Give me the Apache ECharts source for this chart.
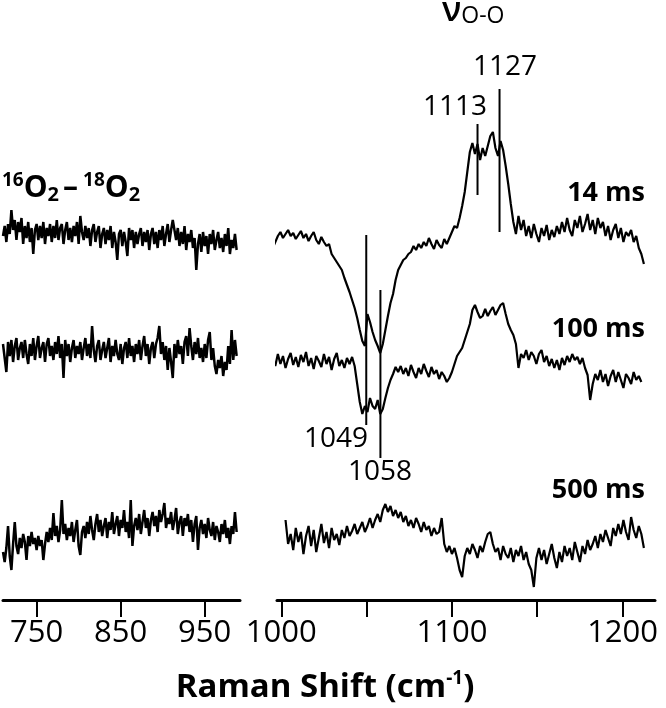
<!DOCTYPE html>
<html><head><meta charset="utf-8">
<script src="https://cdn.jsdelivr.net/npm/echarts@6/dist/echarts.min.js"></script>
<style>html,body{margin:0;padding:0;background:#fff}#c{width:666px;height:708px}</style>
</head><body><div id="c"></div>
<script>
// ---------- axis ticks / labels ----------
const leftTicks = [750, 850, 950];
const rightTicks = [1000, 1050, 1100, 1150, 1200];
const rightLabels = [1000, 1100, 1200];
// ---------- peak annotations ----------
const peakPos = [1049.8, 1058.1, 1115, 1127.9];
const peakText = ['1049', '1058', '1113', '1127'];
const traceNames = ['14 ms', '100 ms', '500 ms'];

// sample grids (cm-1)
const L_START = 710, L_STEP = 2;
const R_START = 995, R_STEP = 1.5;
const R500_START = 1002.5;

// ---------- right panel (995-1215 cm-1) ----------
const right14 = [
 -8,-2,4,8,2,6,10,4,7,1,
 5,9,2,6,-1,4,8,0,-4,3,
 -2,-6,-4,-14,-18,-22,-26,-30,-38,-45,
 -52,-60,-68,-78,-90,-101,-106,-74,-82,-92,
 -100,-106,-113,-104,-90,-76,-63,-54,-40,-30,
 -25,-20,-18,-14,-12,-6,-10,-4,-8,-2,
 -6,2,-4,-9,0,-5,-8,1,-4,2,
 8,14,12,22,34,48,68,88,97,86,
 96,80,92,84,94,104,108,92,84,99,
 90,74,56,36,18,6,24,10,20,4,
 14,2,16,6,-2,12,4,15,0,10,
 3,14,6,18,8,22,10,4,20,12,
 24,8,16,26,10,20,6,22,12,18,
 4,14,0,10,16,2,12,-2,8,4,
 10,-2,4,-8,-14,-24
];
const right100 = [
 4,-4,8,-2,6,-6,3,9,-3,5,
 -5,7,0,10,-4,4,-7,6,1,-5,
 8,-2,5,-8,3,9,-4,2,-6,4,
 -2,5,-4,-22,-40,-52,
 -44,-50,-36,-44,-47,-38,-52,-47,-36,-26,
 -18,-12,-5,-10,
 -4,-12,-6,-14,-3,-10,-16,-6,-12,-2,
 -9,-15,-5,-12,-8,-17,-10,-14,-20,-16,
 -10,-2,6,10,14,22,30,38,52,57,
 50,44,46,53,46,51,55,47,52,57,
 59,48,38,32,27,18,-6,8,4,12,
 2,10,6,-2,8,12,0,6,-4,3,
 -6,2,-8,4,-3,6,0,8,2,5,
 -2,4,-6,-13,-38,-22,-12,-18,-8,-20,
 -12,-24,-14,-8,-20,-10,-18,-26,-12,-16,
 -22,-10,-18,-14,-20
];
const right500 = [
 20,-4,6,-10,12,-2,8,-14,4,14,
 -6,10,-12,2,16,-3,8,-8,12,0,
 6,-5,10,2,14,4,9,16,6,12,
 18,8,14,22,12,20,26,18,30,36,
 28,34,24,30,22,28,18,24,14,20,
 12,22,16,8,18,10,14,4,12,6,
 8,22,-4,-12,-6,-14,-8,-18,-30,-37,-16,-8,
 -14,-4,-10,-18,-6,-12,-2,6,
 8,-4,-12,-8,-20,-6,-14,-18,-8,-22,
 -10,-16,-6,-20,-12,-24,-30,-47,-18,-8,
 -20,-10,-24,-14,-4,-18,-28,-12,-22,-6,
 -16,-8,-20,-2,-12,-22,-6,-14,0,-10,
 -4,4,-8,6,-2,10,2,-6,12,4,
 16,6,20,8,0,23,10,2,14,6,-8
];

// ---------- left panel (710-990 cm-1) ----------
const left14 = [
 0,10,-6,12,2,26,6,16,-4,14,
 4,18,-8,10,-2,14,-6,8,-18,6,
 12,-4,10,-2,14,-8,8,0,12,-6,
 10,-2,16,-4,8,12,-8,6,14,-4,
 8,-6,10,0,14,-8,20,4,-4,10,
 -2,8,-10,6,12,-6,4,10,-12,2,
 8,-8,6,-4,10,-12,4,-6,-24,2,
 6,-10,4,-6,-20,8,-4,6,-12,4,
 -8,2,8,-10,4,-6,6,-14,2,8,
 -8,4,-12,6,-4,10,-10,2,12,-6,
 6,16,18,-4,8,-10,4,-8,10,-14,
 2,-6,6,-12,-2,-34,-8,2,-16,4,
 -10,0,-18,2,-8,6,-14,-4,4,-12,
 -2,-16,2,-10,8,-18,-4,-12,2,-14
];
const left100 = [
 8,-6,-20,10,-4,12,-10,6,14,-8,
 4,10,-6,12,-2,-12,8,-4,14,-8,
 6,16,-6,4,10,-10,8,14,-4,6,
 -8,10,-2,16,-6,8,-26,12,-4,8,
 -10,4,12,-6,6,-2,10,-8,4,14,
 -4,8,-6,26,2,-10,6,12,-8,2,
 10,-6,4,14,-10,6,-4,12,-2,-8,
 8,-12,4,10,-6,14,-4,6,-10,8,
 -2,12,-8,6,16,-4,8,-12,4,10,
 -6,8,14,26,-2,10,-8,6,-18,4,
 -10,-26,8,-6,12,-2,6,-12,10,16,
 -4,24,6,-8,10,-2,14,-6,4,-10,
 8,-6,12,20,-8,4,-14,-22,-8,-16,
 -4,-24,-10,-18,6,-12,22,-8,12,-4
];
const left500 = [
 -12,-22,-8,14,-16,-30,-4,18,-6,-14,
 2,-8,6,-2,-20,4,-6,8,-4,2,
 -10,4,-6,0,-20,-4,8,-2,12,0,
 27,4,14,-2,10,40,6,16,0,12,
 4,18,-2,10,20,-6,-15,8,14,2,
 18,6,24,10,0,16,26,8,20,4,
 14,22,2,18,10,28,6,16,24,4,
 20,12,30,8,18,2,40,-6,14,22,
 10,26,6,18,30,12,22,4,20,28,
 14,24,8,30,18,26,37,12,22,16,
 28,10,20,32,6,18,24,4,22,14,
 26,8,20,-2,16,24,-10,12,20,6,
 16,2,22,10,4,18,0,14,8,-2,
 16,6,20,2,12,-4,14,6,28,8
];

// vertical stacking offsets of the traces
const OFF_L = [364, 248, 60];
const OFF_R = [360, 238, 60];
// annotation line spans (y units)
const peakSpan = [[365,175],[310,142],[476,405],[511,368]];

const FONT = '"Open Sans", "Noto Sans", sans-serif';

function trace(start, step, vals, off, gi, w) {
  return {
    type: 'line', xAxisIndex: gi, yAxisIndex: gi,
    data: vals.map((v, i) => [start + i * step, off + v]),
    showSymbol: false, symbol: 'none', clip: false, silent: true,
    lineStyle: { color: '#000', width: w }, animation: false
  };
}

const series = [
  trace(L_START, L_STEP, left14, OFF_L[0], 0, 2.5),
  trace(L_START, L_STEP, left100, OFF_L[1], 0, 2.5),
  trace(L_START, L_STEP, left500, OFF_L[2], 0, 2.5),
  trace(R_START, R_STEP, right14, OFF_R[0], 1, 2.2),
  trace(R_START, R_STEP, right100, OFF_R[1], 1, 2.2),
  trace(R500_START, R_STEP, right500, OFF_R[2], 1, 2.2)
];
peakPos.forEach((p, k) => {
  series.push({
    type: 'line', xAxisIndex: 1, yAxisIndex: 1, symbol: 'none', silent: true, clip: false,
    data: [[p, peakSpan[k][0]], [p, peakSpan[k][1]]],
    lineStyle: { color: '#000', width: 2 }, animation: false
  });
});

function xAxis(gi, min, max, ticks, labels) {
  return {
    type: 'value', gridIndex: gi, min: min, max: max,
    axisLine: { show: true, lineStyle: { color: '#000', width: 3 } },
    axisTick: { show: true, customValues: ticks, length: 17, lineStyle: { color: '#000', width: 2 } },
    axisLabel: { customValues: labels, fontSize: 31, fontFamily: FONT, color: '#000', margin: 18,
      formatter: v => String(v) },
    splitLine: { show: false }
  };
}
function yAxis(gi) {
  return { type: 'value', gridIndex: gi, min: 0, max: 600, show: false };
}

function txt(text, x, y, font, align) {
  return { type: 'text', silent: true, style: { text: text, x: x, y: y, font: font, fill: '#000',
    align: align, textAlign: align, verticalAlign: 'middle', textVerticalAlign: 'middle' } };
}

const graphics = [
  txt(peakText[3], 505, 67, '28px ' + FONT, 'center'),
  txt(peakText[2], 455, 107, '28px ' + FONT, 'center'),
  txt(peakText[0], 336, 439, '28px ' + FONT, 'center'),
  txt(peakText[1], 380, 472, '28px ' + FONT, 'center'),
  txt(traceNames[0], 645, 193, 'bold 27px ' + FONT, 'right'),
  txt(traceNames[1], 645, 329, 'bold 27px ' + FONT, 'right'),
  txt(traceNames[2], 645, 490, 'bold 27px ' + FONT, 'right'),
  { type: 'text', silent: true, style: {
      text: '{a|Raman Shift (cm}{s|-1}{a|)}', x: 325, y: 688,
      align: 'center', textAlign: 'center', verticalAlign: 'middle', textVerticalAlign: 'middle', fill: '#000',
      rich: {
        a: { fontSize: 33, fontWeight: 'bold', fontFamily: FONT, lineHeight: 38, fill: '#000' },
        s: { fontSize: 19, fontWeight: 'bold', fontFamily: FONT, lineHeight: 22, verticalAlign: 'top', fill: '#000' }
      } } },
  { type: 'text', silent: true, style: {
      text: '{n|ν}{o|O-O}', x: 442, y: 11,
      align: 'left', textAlign: 'left', verticalAlign: 'middle', textVerticalAlign: 'middle', fill: '#000',
      rich: {
        n: { fontSize: 34, fontWeight: 600, fontFamily: FONT, lineHeight: 34, fill: '#000' },
        o: { fontSize: 23, fontFamily: FONT, lineHeight: 24, verticalAlign: 'bottom', fill: '#000' }
      } } },
  { type: 'text', silent: true, style: {
      text: '{s|16}{o|O}{b|2}{d|–}{s|18}{o|O}{b|2}', x: 2, y: 188,
      align: 'left', textAlign: 'left', verticalAlign: 'middle', textVerticalAlign: 'middle', fill: '#000',
      rich: {
        s: { fontSize: 19, fontWeight: 'bold', fontFamily: FONT, lineHeight: 19, verticalAlign: 'top', fill: '#000' },
        o: { fontSize: 30, fontWeight: 'bold', fontFamily: FONT, lineHeight: 34, fill: '#000' },
        b: { fontSize: 20, fontWeight: 'bold', fontFamily: FONT, lineHeight: 20, verticalAlign: 'bottom', fill: '#000' },
        d: { fontSize: 30, fontWeight: 'bold', fontFamily: FONT, lineHeight: 34, padding: [0, 5, 0, 4], fill: '#000' }
      } } }
];

const chart = echarts.init(document.getElementById('c'), null, { renderer: 'canvas' });
chart.setOption({
  animation: false,
  backgroundColor: '#fff',
  grid: [
    { left: 3, width: 237, top: 0, bottom: 108, outerBoundsMode: 'none' },
    { left: 277, right: 11, top: 0, bottom: 108, outerBoundsMode: 'none' }
  ],
  xAxis: [
    xAxis(0, 710, 992, leftTicks, leftTicks),
    xAxis(1, 997.5, 1219, rightTicks, rightLabels)
  ],
  yAxis: [yAxis(0), yAxis(1)],
  series: series,
  graphic: graphics
});
</script>
</body></html>
